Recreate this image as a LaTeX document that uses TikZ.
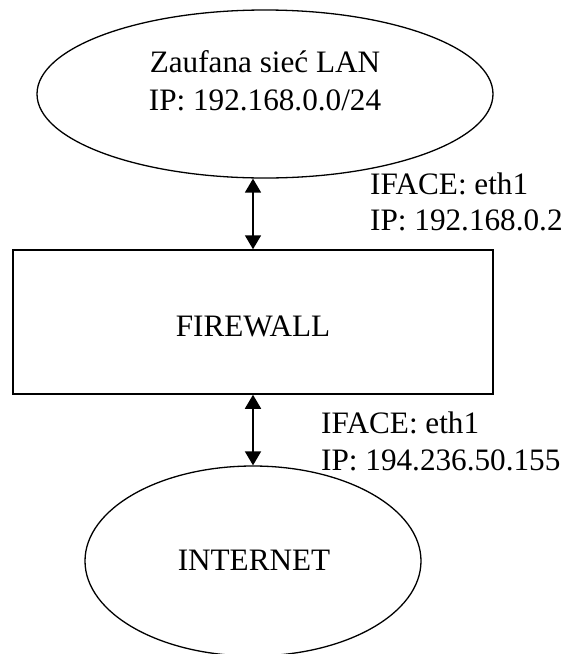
\documentclass[tikz,border=0pt]{standalone}
\usepackage{fontspec}
\setmainfont{Liberation Serif}
\usetikzlibrary{shapes.geometric,arrows.meta}
\tikzset{
  netcloud/.style={draw, ellipse, line width=1.3pt, inner sep=0pt},
  fwbox/.style={draw, rectangle, line width=1.5pt, inner sep=0pt},
  txt/.style={inner sep=0pt, font=\fontsize{31.2}{37}\selectfont},
  link/.style={line width=1.8pt,
    {Triangle[width=16pt,length=14pt]}-{Triangle[width=16pt,length=14pt]}}
}
\begin{document}
\begin{tikzpicture}[x=1pt,y=-1pt]
\useasboundingbox (0,0) rectangle (568,654);
% trusted LAN
\node[netcloud, minimum width=456pt, minimum height=168pt] (lan) at (265,94) {};
\node[txt, anchor=base] (lan1) at (265,72) {Zaufana sieć LAN};
\node[txt, anchor=base] (lan2) at (265,110) {IP: 192.168.0.0/24};
% firewall
\node[fwbox, minimum width=480pt, minimum height=144pt] (fw) at (253,322) {};
\node[txt, anchor=base] (fwt) at (253,336.5) {FIREWALL};
% internet
\node[netcloud, minimum width=336pt, minimum height=190pt] (net) at (253,561) {};
\node[txt, anchor=base] (nett) at (254,570) {INTERNET};
% links
\draw[link] (lan.south -| fw.north) -- (fw.north);
\draw[link] (fw.south) -- (net.north);
% interface labels
\node[txt, anchor=base west] (if1a) at (370,194) {IFACE: eth1};
\node[txt, anchor=base west] (if1b) at (370,230) {IP: 192.168.0.2};
\node[txt, anchor=base west] (if2a) at (321,433) {IFACE: eth1};
\node[txt, anchor=base west] (if2b) at (321,470) {IP: 194.236.50.155};
\end{tikzpicture}
\end{document}
